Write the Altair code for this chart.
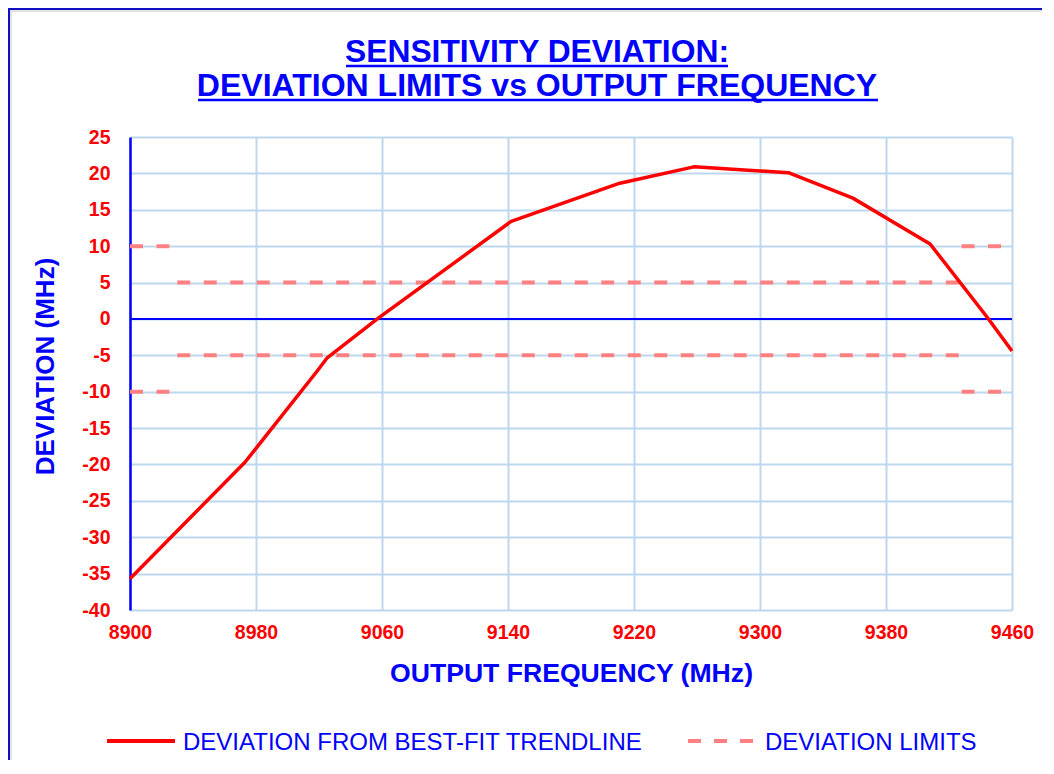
import altair as alt
import pandas as pd

# ---- data ----
FREQ = [8900, 8973, 9018, 9025, 9057, 9142, 9211, 9258, 9318, 9359, 9408, 9444, 9460]
DEV = [-35.7, -19.7, -7.4, -5.4, 0.0, 13.4, 18.65, 20.9, 20.1, 16.6, 10.3, 0.3, -4.4]

LIMIT_START = [8900, 8900, 8930, 8930, 9428, 9428]
LIMIT_END = [8925, 8925, 9430, 9430, 9454, 9454]
LIMIT_VALUE = [10, -10, 5, -5, 10, -10]

X_TICKS = [8900, 8980, 9060, 9140, 9220, 9300, 9380, 9460]
Y_TICKS = [-40, -35, -30, -25, -20, -15, -10, -5, 0, 5, 10, 15, 20, 25]

TITLE_LINES = ["SENSITIVITY DEVIATION:", "DEVIATION LIMITS vs OUTPUT FREQUENCY"]
X_TITLE = "OUTPUT FREQUENCY (MHz)"
Y_TITLE = "DEVIATION (MHz)"
LEGEND_LABELS = ["DEVIATION FROM BEST-FIT TRENDLINE", "DEVIATION LIMITS"]

# ---- styling ----
FONT = "Liberation Sans"
BLUE = "#0000FF"
RED = "#FF0000"
PINK = "#FF8080"
GRID = "#BDD7EE"
W, H = 882, 473

df_line = pd.DataFrame({"freq": FREQ, "dev": DEV})
df_lim = pd.DataFrame({"freq": LIMIT_START, "end": LIMIT_END, "dev": LIMIT_VALUE})
df_zero = pd.DataFrame({"dev": [0]})

xscale = alt.Scale(domain=[X_TICKS[0], X_TICKS[-1]], nice=False, zero=False)
yscale = alt.Scale(domain=[Y_TICKS[0], Y_TICKS[-1]], nice=False, zero=False)

x_axis = alt.Axis(
    values=X_TICKS, format="d", labelFont=FONT, labelFontSize=19.5,
    labelFontWeight="bold", labelColor=RED, labelPadding=28,
    labelBaseline="alphabetic", ticks=False, tickSize=0, domain=False,
    grid=True, gridColor=GRID, gridWidth=2, labelFlush=False,
    labelOverlap=False, title=X_TITLE, titleFont=FONT, titleFontSize=26.6,
    titleFontWeight="bold", titleColor=BLUE, titleX=441, titleY=71,
    titleBaseline="alphabetic", titleAlign="center",
)
y_axis = alt.Axis(
    values=Y_TICKS, labelExpr="'' + datum.value", labelFont=FONT,
    labelFontSize=19.5, labelFontWeight="bold", labelColor=RED,
    labelPadding=20, ticks=False, tickSize=0, domain=True,
    domainColor=BLUE, domainWidth=2.5, grid=True, gridColor=GRID,
    gridWidth=2, labelFlush=False, labelOverlap=False, title=Y_TITLE,
    titleFont=FONT, titleFontSize=26, titleFontWeight="bold",
    titleColor=BLUE, titleX=-85, titleY=229, titleAngle=270,
    titleBaseline="middle", titleAlign="center",
)

# axis-carrying layer (invisible points on the curve data)
axes_layer = alt.Chart(df_line).mark_point(opacity=0).encode(
    x=alt.X("freq:Q", scale=xscale, axis=x_axis),
    y=alt.Y("dev:Q", scale=yscale, axis=y_axis),
)

zero_rule = alt.Chart(df_zero).mark_rule(color=BLUE, strokeWidth=2).encode(
    y=alt.Y("dev:Q", scale=yscale, axis=y_axis)
)

limits = alt.Chart(df_lim).mark_rule(
    color=PINK, strokeWidth=4, strokeDash=[13, 13.5]
).encode(
    x=alt.X("freq:Q", scale=xscale, axis=x_axis),
    x2="end:Q",
    y=alt.Y("dev:Q", scale=yscale, axis=y_axis),
)

line = alt.Chart(df_line).mark_line(
    color=RED, strokeWidth=3.5, strokeJoin="round"
).encode(
    x=alt.X("freq:Q", scale=xscale, axis=x_axis),
    y=alt.Y("dev:Q", scale=yscale, axis=y_axis),
)

# ---- title (text + underline) ----
def text_layer(txt, x, y, size, weight, align="center"):
    return alt.Chart(pd.DataFrame({"t": [txt]})).mark_text(
        font=FONT, fontSize=size, fontWeight=weight, color=BLUE,
        align=align, baseline="alphabetic"
    ).encode(text="t:N", x=alt.value(x), y=alt.value(y))

def hrule(x1, x2, y, color, width, dash=None):
    kw = dict(color=color, strokeWidth=width)
    if dash:
        kw["strokeDash"] = dash
    return alt.Chart(pd.DataFrame({"k": [0]})).mark_rule(**kw).encode(
        x=alt.value(x1), x2=alt.value(x2), y=alt.value(y)
    )

def vrule(x, y1, y2, color, width):
    return alt.Chart(pd.DataFrame({"k": [0]})).mark_rule(
        color=color, strokeWidth=width
    ).encode(x=alt.value(x), y=alt.value(y1), y2=alt.value(y2))

title1 = text_layer(TITLE_LINES[0], 407, -75, 31.8, "bold")
title2 = text_layer(TITLE_LINES[1], 407, -41, 32, "bold")
ul1 = hrule(216, 598, -71, BLUE, 2.5)
ul2 = hrule(68, 748, -37, BLUE, 2.5)

# ---- legend ----
leg_line = hrule(-23, 45, 604, RED, 4)
leg_text1 = text_layer(LEGEND_LABELS[0], 53, 613, 24, "normal", align="left")
leg_dash = hrule(558, 625, 604, PINK, 4, dash=[13, 13])
leg_text2 = text_layer(LEGEND_LABELS[1], 635, 613, 24, "normal", align="left")

# ---- outer frame (left and top edges visible) ----
frame_left = vrule(-121, -129, 640, "#1010C0", 2)
frame_left2 = vrule(-119, -126, 640, "#D8D8D8", 1.5)
frame_top = hrule(-122, 920, -128, "#1010C0", 2)
frame_top2 = hrule(-120, 920, -126, "#D8D8D8", 1.5)

chart = alt.layer(
    axes_layer, zero_rule, limits, line,
    title1, title2, ul1, ul2,
    leg_line, leg_text1, leg_dash, leg_text2,
    frame_left, frame_left2, frame_top, frame_top2,
).properties(
    width=W, height=H,
    autosize=alt.AutoSizeParams(type="none"),
    padding={"left": 122, "top": 129, "right": 30, "bottom": 150},
    background="white",
).configure_view(stroke=None)

chart.save("out.html", embed_options={"renderer": "svg", "actions": False})
